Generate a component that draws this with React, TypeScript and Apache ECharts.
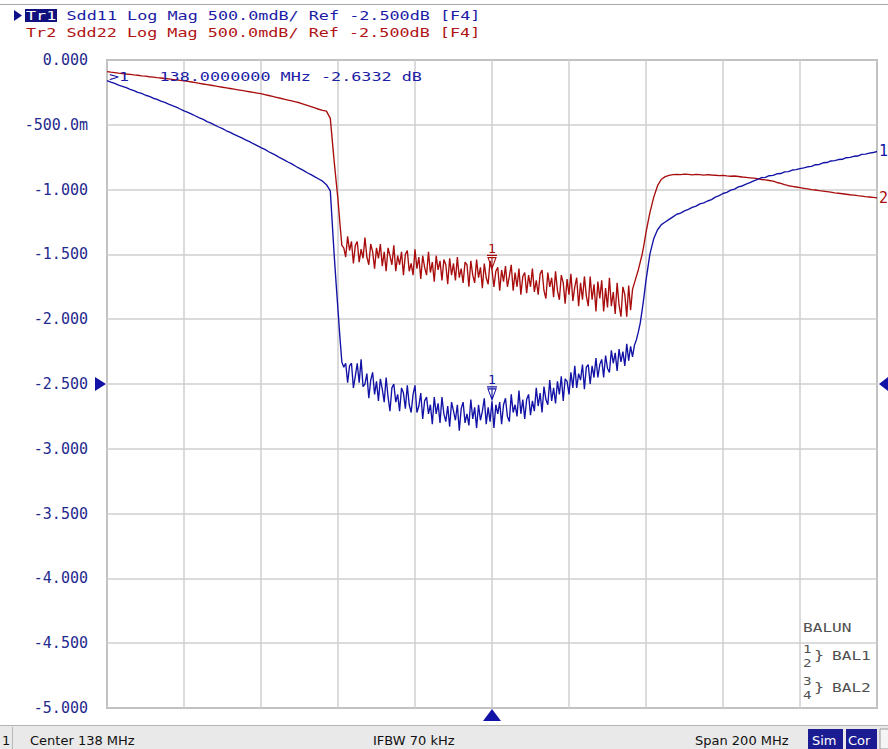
import React, { useEffect, useRef } from "react";
import * as echarts from "echarts";

// ---- sweep set-up ----
const startFreqMHz = 38;
const stopFreqMHz = 238;
const gridStepMHz = 20;
const markerFreqMHz = 138;
const refLevelDb = -2.5;
const ifbwText = "IFBW 70 kHz";

// sweep sections: [start MHz, step MHz]
const lowSection = [38, 1]; // 38 .. 97
const bandSection = [97.5, 0.5]; // 97.5 .. 177.5
const highSection = [178, 1]; // 178 .. 238

// ---- y axis ticks ----
const yTickValues = [0, -0.5, -1, -1.5, -2, -2.5, -3, -3.5, -4, -4.5, -5];
const yTickLabels = ["0.000", "-500.0m", "-1.000", "-1.500", "-2.000", "-2.500", "-3.000", "-3.500", "-4.000", "-4.500", "-5.000"];

// ---- Tr1 : Sdd11 (dB) ----
const sdd11Low = [
  -0.160, -0.171, -0.180, -0.194, -0.203, -0.214, -0.226, -0.236, -0.250, -0.258,
  -0.272, -0.281, -0.295, -0.304, -0.318, -0.327, -0.340, -0.352, -0.363, -0.378,
  -0.392, -0.404, -0.418, -0.432, -0.446, -0.458, -0.476, -0.487, -0.503, -0.517,
  -0.530, -0.546, -0.558, -0.574, -0.588, -0.601, -0.617, -0.630, -0.646, -0.661,
  -0.676, -0.690, -0.708, -0.722, -0.738, -0.756, -0.770, -0.787, -0.802, -0.820,
  -0.836, -0.852, -0.870, -0.884, -0.902, -0.918, -0.935, -0.962, -1.010, -1.500,
];
const sdd11Band = [
  -1.72, -1.93, -2.14, -2.33, -2.37,
  -2.34, -2.49, -2.36, -2.34, -2.53, -2.44, -2.34, -2.49, -2.31, -2.52,
  -2.50, -2.42, -2.61, -2.47, -2.41, -2.58, -2.48, -2.63, -2.46, -2.54,
  -2.64, -2.45, -2.60, -2.71, -2.53, -2.50, -2.64, -2.58, -2.71, -2.53,
  -2.57, -2.69, -2.51, -2.66, -2.72, -2.58, -2.51, -2.72, -2.67, -2.57,
  -2.77, -2.63, -2.60, -2.73, -2.66, -2.81, -2.60, -2.73, -2.65, -2.80,
  -2.60, -2.73, -2.79, -2.67, -2.83, -2.64, -2.71, -2.78, -2.66, -2.86,
  -2.69, -2.64, -2.80, -2.73, -2.82, -2.62, -2.77, -2.68, -2.84, -2.66,
  -2.78, -2.71, -2.61, -2.81, -2.68, -2.79, -2.6332, -2.84, -2.66, -2.73,
  -2.64, -2.81, -2.66, -2.61, -2.75, -2.79, -2.58, -2.72, -2.66, -2.75,
  -2.55, -2.73, -2.62, -2.77, -2.62, -2.58, -2.74, -2.63, -2.71, -2.53,
  -2.67, -2.57, -2.72, -2.52, -2.62, -2.66, -2.47, -2.63, -2.53, -2.65,
  -2.48, -2.58, -2.44, -2.63, -2.46, -2.48, -2.58, -2.41, -2.53, -2.36,
  -2.53, -2.42, -2.47, -2.35, -2.54, -2.37, -2.35, -2.50, -2.36, -2.45,
  -2.30, -2.45, -2.35, -2.31, -2.45, -2.28, -2.38, -2.41, -2.24, -2.34,
  -2.26, -2.40, -2.23, -2.33, -2.25, -2.36, -2.19, -2.32, -2.21, -2.29,
  -2.20, -2.16, -2.10, -2.03, -1.93, -1.82,
];
const sdd11High = [
  -1.70, -1.50, -1.38, -1.31, -1.27, -1.25, -1.23, -1.21,
  -1.190, -1.182, -1.164, -1.152, -1.138, -1.127, -1.110, -1.102, -1.088, -1.077,
  -1.058, -1.047, -1.030, -1.021, -1.004, -0.996, -0.979, -0.972, -0.958, -0.947,
  -0.933, -0.922, -0.908, -0.906, -0.893, -0.890, -0.878, -0.876, -0.863, -0.861,
  -0.849, -0.846, -0.838, -0.832, -0.824, -0.821, -0.808, -0.806, -0.793, -0.791,
  -0.779, -0.776, -0.768, -0.766, -0.754, -0.751, -0.743, -0.741, -0.728, -0.726,
  -0.719, -0.714, -0.706,
];

// ---- Tr2 : Sdd22 (dB) ----
const sdd22Low = [
  -0.090, -0.094, -0.097, -0.101, -0.104, -0.108, -0.111, -0.115, -0.118, -0.122,
  -0.125, -0.129, -0.132, -0.136, -0.139, -0.143, -0.146, -0.150, -0.153, -0.157,
  -0.160, -0.165, -0.170, -0.175, -0.180, -0.185, -0.190, -0.195, -0.200, -0.205,
  -0.210, -0.215, -0.220, -0.225, -0.230, -0.235, -0.240, -0.245, -0.250, -0.255,
  -0.260, -0.267, -0.274, -0.281, -0.288, -0.295, -0.302, -0.309, -0.316, -0.323,
  -0.330, -0.340, -0.350, -0.360, -0.370, -0.380, -0.388, -0.395, -0.450, -0.780,
];
const sdd22Band = [
  -0.93, -1.08, -1.26, -1.43, -1.45,
  -1.52, -1.36, -1.47, -1.40, -1.57, -1.43, -1.40, -1.56, -1.46, -1.53,
  -1.37, -1.52, -1.58, -1.42, -1.48, -1.61, -1.45, -1.53, -1.42, -1.59,
  -1.48, -1.63, -1.45, -1.51, -1.58, -1.43, -1.63, -1.51, -1.58, -1.48,
  -1.66, -1.50, -1.47, -1.63, -1.57, -1.66, -1.46, -1.61, -1.52, -1.69,
  -1.51, -1.60, -1.66, -1.48, -1.64, -1.56, -1.71, -1.51, -1.62, -1.55,
  -1.70, -1.54, -1.58, -1.73, -1.53, -1.66, -1.57, -1.70, -1.52, -1.68,
  -1.61, -1.72, -1.56, -1.58, -1.75, -1.55, -1.66, -1.72, -1.54, -1.68,
  -1.60, -1.76, -1.57, -1.68, -1.73, -1.55, -1.62, -1.75, -1.63, -1.60,
  -1.78, -1.62, -1.71, -1.59, -1.75, -1.67, -1.58, -1.78, -1.64, -1.75,
  -1.61, -1.81, -1.67, -1.64, -1.80, -1.66, -1.75, -1.61, -1.79, -1.70,
  -1.81, -1.65, -1.62, -1.78, -1.84, -1.64, -1.75, -1.68, -1.83, -1.63,
  -1.78, -1.85, -1.66, -1.72, -1.88, -1.69, -1.81, -1.65, -1.86, -1.75,
  -1.68, -1.90, -1.72, -1.85, -1.67, -1.82, -1.90, -1.67, -1.85, -1.73,
  -1.94, -1.71, -1.84, -1.70, -1.94, -1.76, -1.91, -1.68, -1.90, -1.79,
  -1.96, -1.72, -1.89, -1.98, -1.75, -1.81, -1.98, -1.74, -1.93, -1.77,
  -1.72, -1.67, -1.62, -1.56, -1.50, -1.42,
];
const sdd22High = [
  -1.33, -1.18, -1.06, -0.97, -0.92, -0.90, -0.89,
  -0.885, -0.882, -0.885, -0.880, -0.883, -0.886, -0.882, -0.885, -0.888, -0.884,
  -0.887, -0.889, -0.892, -0.890, -0.894, -0.897, -0.895, -0.899, -0.903, -0.906,
  -0.909, -0.912, -0.915, -0.922, -0.925, -0.930, -0.935, -0.945, -0.952, -0.962,
  -0.970, -0.975, -0.980, -0.985, -0.990, -0.995, -1.000, -1.003, -1.008, -1.012,
  -1.016, -1.020, -1.025, -1.028, -1.032, -1.036, -1.040, -1.043, -1.047, -1.050,
  -1.054, -1.057, -1.060, -1.064,
];

const traceHeaders = [
  { id: "Tr1", text: "Sdd11 Log Mag 500.0mdB/ Ref -2.500dB [F4]", color: "#1c1ca6" },
  { id: "Tr2", text: "Sdd22 Log Mag 500.0mdB/ Ref -2.500dB [F4]", color: "#b01414" },
];

const BLUE = "#1212a6";
const RED = "#a80c0c";
const MONO = "DejaVu Sans Mono";
const PITCH_SCALE = 1.29;

function sectionPoints(values: number[], sec: number[]) {
  return values.map((v, i) => [sec[0] + i * sec[1], v]);
}

function tracePoints(low: number[], band: number[], high: number[]) {
  return [
    ...sectionPoints(low, lowSection),
    ...sectionPoints(band, bandSection),
    ...sectionPoints(high, highSection),
  ];
}

const tr1Points = tracePoints(sdd11Low, sdd11Band, sdd11High);
const tr2Points = tracePoints(sdd22Low, sdd22Band, sdd22High);

function valueAt(points: number[][], f: number) {
  const p = points.find((q) => Math.abs(q[0] - f) < 1e-9);
  return p ? p[1] : NaN;
}

function tickLabel(v: number) {
  const i = yTickValues.findIndex((t) => Math.abs(t - v) < 1e-6);
  return i >= 0 ? yTickLabels[i] : "";
}

function markerOf(points: number[][], color: string) {
  return {
    silent: true,
    symbol: "path://M0,0L10,0M1,2L9,2L5,12ZM5,2L5,12",
    symbolSize: [10, 13],
    symbolOffset: [0, -8],
    itemStyle: { color: "rgba(0,0,0,0)", borderColor: color, borderWidth: 1.1 },
    label: {
      show: true,
      position: "top",
      distance: 0,
      formatter: "1",
      color,
      fontFamily: MONO,
      fontSize: 13,
    },
    data: [{ coord: [markerFreqMHz, valueAt(points, markerFreqMHz)] }],
  };
}

function traceSeries(name: string, points: number[][], color: string, endText: string) {
  return {
    name,
    type: "line",
    data: points,
    symbol: "none",
    showSymbol: false,
    clip: false,
    lineStyle: { color, width: 1.35 },
    itemStyle: { color },
    endLabel: {
      show: true,
      formatter: endText,
      color,
      fontFamily: MONO,
      fontSize: 15,
      distance: 2,
    },
    markPoint: markerOf(points, color),
    z: 3,
  };
}

export default function App() {
  const ref = useRef<HTMLDivElement>(null);

  useEffect(() => {
    if (!ref.current) return;
    const chart = echarts.init(ref.current, null, { renderer: "svg" });
    const option: any = {
      animation: false,
      backgroundColor: "#ffffff",
      grid: {
        left: 107,
        right: 11,
        top: 60,
        bottom: 41,
        show: true,
        borderColor: "#7c7c7c",
        borderWidth: 1.5,
        backgroundColor: "rgba(0,0,0,0)",
      },
      xAxis: {
        type: "value",
        min: startFreqMHz,
        max: stopFreqMHz,
        interval: gridStepMHz,
        axisLine: { show: false },
        axisTick: { show: false },
        axisLabel: { show: false },
        splitLine: { show: true, lineStyle: { color: "#cfcfcf", width: 1.5 } },
      },
      yAxis: {
        type: "value",
        min: -5,
        max: 0,
        interval: 0.5,
        axisLine: { show: false },
        axisTick: { show: false },
        axisLabel: {
          margin: 19,
          color: "#1f2a8e",
          fontFamily: MONO,
          fontSize: 15,
          formatter: (v: number) => tickLabel(v),
        },
        splitLine: { show: true, lineStyle: { color: "#cfcfcf", width: 1.5 } },
      },
      series: [
        traceSeries("Tr2 Sdd22", tr2Points, RED, "2"),
        traceSeries("Tr1 Sdd11", tr1Points, BLUE, "1"),
      ],
    };
    chart.setOption(option);

    const pL = chart.convertToPixel({ gridIndex: 0 }, [startFreqMHz, refLevelDb]) as number[];
    const pR = chart.convertToPixel({ gridIndex: 0 }, [stopFreqMHz, refLevelDb]) as number[];
    const centerMHz = (startFreqMHz + stopFreqMHz) / 2;
    const spanMHz = stopFreqMHz - startFreqMHz;
    const pB = chart.convertToPixel({ gridIndex: 0 }, [centerMHz, -5]) as number[];
    const pT = chart.convertToPixel({ gridIndex: 0 }, [startFreqMHz, 0]) as number[];

    const markerText = `>1   ${markerFreqMHz.toFixed(7)} MHz ${valueAt(tr1Points, markerFreqMHz).toFixed(4)} dB`;

    const monoText = (text: string, x: number, y: number, fill: string, size = 13) => ({
      type: "text",
      x,
      y,
      scaleX: PITCH_SCALE,
      z: 100,
      style: { text, fill, fontFamily: MONO, fontSize: size, verticalAlign: "middle", align: "left" },
    });

    const sansText = (text: string, x: number, y: number, fill = "#111111") => ({
      type: "text",
      x,
      y,
      z: 100,
      style: { text, fill, fontFamily: "DejaVu Sans", fontSize: 13, verticalAlign: "middle", align: "left" },
    });

    const elements: any[] = [
      // window top line
      { type: "line", z: 100, shape: { x1: 0, y1: 4.5, x2: 888, y2: 4.5 }, style: { stroke: "#a9a9a9", lineWidth: 1 } },
      // active trace pointer + trace headers
      { type: "polygon", z: 100, shape: { points: [[14, 10], [22, 15.5], [14, 21]] }, style: { fill: "#10108a" } },
      { type: "rect", z: 100, shape: { x: 25, y: 9, width: 32, height: 13 }, style: { fill: "#10107e" } },
      monoText(traceHeaders[0].id, 26, 15.5, "#ffffff"),
      monoText(traceHeaders[0].text, 66.5, 15.5, traceHeaders[0].color),
      monoText(traceHeaders[1].id + " " + traceHeaders[1].text, 26, 32.5, traceHeaders[1].color),
      // marker readout
      monoText(markerText, pT[0] + 2, pT[1] + 17, "#1c1ca6"),
      // reference level arrows
      { type: "polygon", z: 100, shape: { points: [[pL[0] - 12, pL[1] - 7], [pL[0] - 1, pL[1]], [pL[0] - 12, pL[1] + 7]] }, style: { fill: BLUE } },
      { type: "polygon", z: 100, shape: { points: [[pR[0] + 11, pR[1] - 7], [pR[0] + 2, pR[1]], [pR[0] + 11, pR[1] + 7]] }, style: { fill: BLUE } },
      // BALUN legend
      monoText("BALUN", 803, 628, "#505050", 12.5),
      monoText("1", 803, 649, "#505050", 11),
      monoText("2", 803, 663, "#505050", 11),
      monoText("}", 814, 656, "#505050", 13),
      monoText("BAL1", 832, 656, "#505050", 12.5),
      monoText("3", 803, 681, "#505050", 11),
      monoText("4", 803, 695, "#505050", 11),
      monoText("}", 814, 688, "#505050", 13),
      monoText("BAL2", 832, 688, "#505050", 12.5),
      // status bar
      { type: "rect", z: 90, shape: { x: 0, y: 726, width: 888, height: 23 }, style: { fill: "#e9e9e9" } },
      { type: "line", z: 91, shape: { x1: 0, y1: 725.5, x2: 888, y2: 725.5 }, style: { stroke: "#b4b4b4", lineWidth: 1 } },
      { type: "line", z: 91, shape: { x1: 12.5, y1: 727, x2: 12.5, y2: 749 }, style: { stroke: "#b8b8b8", lineWidth: 1 } },
      sansText("1", 2, 740),
      sansText(`Center ${centerMHz} MHz`, 30, 740),
      sansText(ifbwText, 373, 740),
      sansText(`Span ${spanMHz} MHz`, 695, 740),
      { type: "rect", z: 95, shape: { x: 808, y: 729, width: 35, height: 20 }, style: { fill: "#1c1c92" } },
      sansText("Sim", 812, 740, "#ffffff"),
      { type: "rect", z: 95, shape: { x: 846, y: 729, width: 31, height: 20 }, style: { fill: "#1c1c92" } },
      sansText("Cor", 848, 740, "#ffffff"),
      { type: "rect", z: 95, shape: { x: 880, y: 729, width: 10, height: 20 }, style: { fill: "#f4f4f4", stroke: "#9a9a9a", lineWidth: 1 } },
      // centre frequency arrow
      { type: "polygon", z: 101, shape: { points: [[pB[0] - 9, pB[1] + 13], [pB[0], pB[1] + 1], [pB[0] + 9, pB[1] + 13]] }, style: { fill: BLUE } },
    ];

    chart.setOption({ graphic: { elements } });
    return () => chart.dispose();
  }, []);

  return (
    <div
      ref={ref}
      style={{ position: "fixed", left: 0, top: 0, width: 888, height: 749, background: "#ffffff" }}
    />
  );
}
